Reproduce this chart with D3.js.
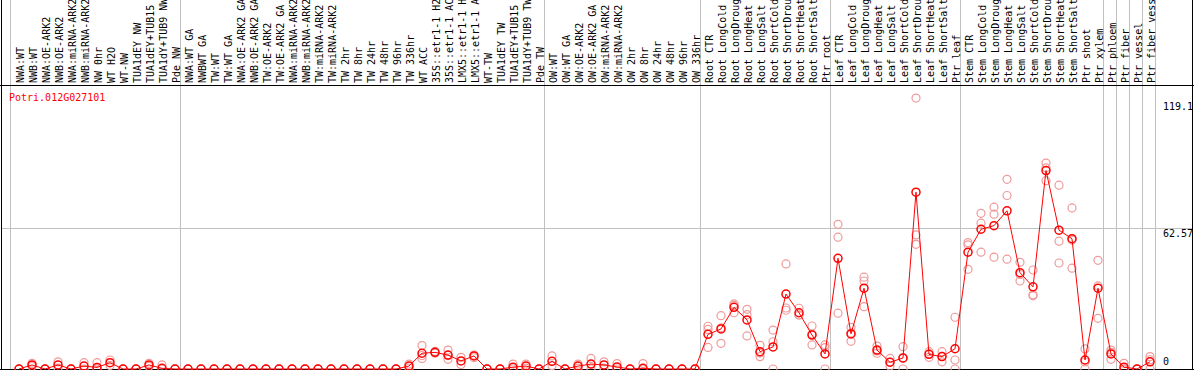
<!DOCTYPE html>
<html>
<head>
<meta charset="utf-8">
<script src="https://cdn.jsdelivr.net/npm/d3@7"></script>
<style>
  html, body { margin: 0; padding: 0; background: #fff; }
  svg { display: block; }
</style>
</head>
<body>
<div id="chart"></div>
<script>
const geneName = "Potri.012G027101"

const labels = [
    "NWA:WT", "NWB:WT", "NWA:OE-ARK2", "NWB:OE-ARK2", "NWA:miRNA-ARK2", "NWB:miRNA-ARK2",
    "NW 0hr", "WT H2O", "WT-NW", "TUA1dEY NW", "TUA1dEY+TUB15 NW", "TUA1dY+TUB9 NW", "Pde NW",
    "NWA:WT GA", "NWBWT GA", "TW:WT", "TW:WT GA", "NWA:OE-ARK2 GA", "NWB:OE-ARK2 GA",
    "TW:OE-ARK2", "TW:OE-ARK2 GA", "NWA:miRNA-ARK2", "NWB:miRNA-ARK2", "TW:miRNA-ARK2",
    "TW:miRNA-ARK2", "TW 2hr", "TW 8hr", "TW 24hr", "TW 48hr", "TW 96hr", "TW 336hr",
    "WT ACC", "35S::etr1-1 H2O", "35S::etr1-1 ACC", "LMX5::etr1-1 H2O", "LMX5::etr1-1 ACC",
    "WT-TW", "TUA1dEY TW", "TUA1dEY+TUB15 TW", "TUA1dY+TUB9 TW", "Pde TW",
    "OW:WT", "OW:WT GA", "OW:OE-ARK2", "OW:OE-ARK2 GA", "OW:miRNA-ARK2", "OW:miRNA-ARK2",
    "OW 2hr", "OW 8hr", "OW 24hr", "OW 48hr", "OW 96hr", "OW 336hr",
    "Root CTR", "Root LongCold", "Root LongDrought", "Root LongHeat", "Root LongSalt",
    "Root ShortCold", "Root ShortDrought", "Root ShortHeat", "Root ShortSalt", "Ptr root",
    "Leaf CTR", "Leaf LongCold", "Leaf LongDrought", "Leaf LongHeat", "Leaf LongSalt",
    "Leaf ShortCold", "Leaf ShortDrought", "Leaf ShortHeat", "Leaf ShortSalt", "Ptr leaf",
    "Stem CTR", "Stem LongCold", "Stem LongDrought", "Stem LongHeat", "Stem LongSalt",
    "Stem ShortCold", "Stem ShortDrought", "Stem ShortHeat", "Stem ShortSalt", "Ptr shoot",
    "Ptr xylem", "Ptr phloem", "Ptr fiber", "Ptr vessel", "Ptr fiber vessel"
]

// mean expression per sample
const means = [
    0, 1.8, 0, 1.8, 0, 1.3, 0.7, 2.8, 0, 0, 1.8, 0.3, 0,
    0, 0, 0, 0, 0, 0, 0, 0, 0, 0, 0, 0, 0, 0, 0, 0, 0, 1.3,
    7.0, 7.4, 6.2, 3.6, 5.8, 0, 0, 0.8, 1.3, 0,
    3.4, 0, 1.3, 2.2, 1.8, 0.9, 0, 0.3, 0, 0, 0, 0,
    15.4, 17.8, 27.4, 21.8, 7.7, 9.8, 33.3, 25.0, 15.1, 6.7,
    49.2, 15.6, 35.9, 8.4, 3.0, 4.9, 78.6, 6.5, 5.5, 9.0,
    51.9, 62.1, 63.7, 70.3, 42.8, 36.5, 88.2, 61.7, 57.9, 4.0,
    35.9, 6.7, 0.8, 0, 3.2
]

// individual replicates per sample
const replicates = [
    [0, 0], [2.5, 1.1], [0, 0], [3.2, 0.4], [0, 0], [2.8, 0], [2.8, 0], [4.0, 1.6],
    [0, 0], [0, 0], [2.5, 1.1], [1.8, 0], [0, 0],
    [0, 0], [0, 0], [0, 0], [0, 0], [0, 0], [0, 0], [0, 0], [0, 0], [0, 0], [0, 0],
    [0, 0], [0, 0], [0, 0], [0, 0], [0, 0], [0, 0], [0, 0], [2.2, 0.4],
    [10.4, 4.7, 6.0], [7.8, 7.0], [8.4, 4.3, 6.0], [5.2, 2.0], [6.2, 5.0],
    [0, 0], [0, 0], [2.2, 0], [2.2, 0.4], [0, 0],
    [5.8, 1.5], [0, 0], [2.2, 0.4], [4.7, 0], [3.2, 0.4], [2.4, 0], [0, 0], [2.4, 0],
    [0, 0], [0, 0], [0, 0], [0, 0],
    [19.0, 17.6, 9.6], [23.7, 11.4, 18.3], [28.9, 25.0, 28.3], [26.5, 14.7, 24.2],
    [10.5, 5.5, 7.1], [17.3, 12.1, 0], [46.7, 26.1, 27.1], [27.0, 24.0, 24.0],
    [19.1, 10.7, 15.5], [10.7, 9.5, 0],
    [64.3, 58.6, 24.8], [18.5, 12.3, 16.0], [40.8, 39.1, 27.7], [10.2, 8.0, 7.0],
    [4.7, 3.0, 1.3], [9.9, 4.8, 0], [120.4, 59.6, 55.4], [7.7, 5.2, 6.6],
    [7.7, 3.2, 5.6], [23.0, 4.0, 0],
    [56.2, 44.3, 55.2], [69.2, 64.8, 51.9], [71.9, 68.8, 49.7], [84.3, 77.1, 48.8],
    [47.4, 39.1, 42.0], [44.0, 32.5, 33.0], [91.5, 83.7, 89.4], [81.7, 56.8, 47.1],
    [71.6, 44.8, 57.3], [8.9, 0, 3.1],
    [48.3, 22.5, 36.9], [8.4, 4.3, 7.4], [2.5, 0, 0], [0, 0, 0], [5.5, 4.1, 0]
]

// index of the last sample in each group (a grey separator follows it)
const groupEnds = [12, 40, 52, 62, 72, 83, 84, 85, 86, 87]

const yTicks = [0, 62.57, 119.1]
const yGrid = [62.57]

const width = 1194
const height = 370
const headerBottom = 85      // the black line under the sample names
const plotBottom = 369       // where 0 sits
const yTop = 101             // where the max tick sits
const font = "'DejaVu Sans Mono', monospace"

const xScale = d3.scaleLinear([0, labels.length - 1], [19, 19 + 13 * (labels.length - 1)])
const yScale = d3.scaleLinear([0, d3.max(yTicks)], [plotBottom, yTop])

const svg = d3.select("#chart")
    .append("svg")
    .attr("width", width)
    .attr("height", height)
    .attr("viewBox", [0, 0, width, height])
    .attr("shape-rendering", "crispEdges")

// grey separators
svg.append("g")
    .attr("stroke", "#c0c0c0")
    .attr("stroke-width", 1)
    .call(g => g.append("line")
        .attr("x1", xScale(0) - 8.5).attr("x2", xScale(0) - 8.5)
        .attr("y1", 0).attr("y2", plotBottom))
    .call(g => g.selectAll("line.sep")
        .data(groupEnds)
        .join("line")
        .attr("class", "sep")
        .attr("x1", d => Math.round(xScale(d) + 5) + 0.5)
        .attr("x2", d => Math.round(xScale(d) + 5) + 0.5)
        .attr("y1", 0)
        .attr("y2", plotBottom))
    .call(g => g.selectAll("line.grid")
        .data(yGrid)
        .join("line")
        .attr("class", "grid")
        .attr("x1", 1)
        .attr("x2", width - 1)
        .attr("y1", d => Math.round(yScale(d)) + 0.5)
        .attr("y2", d => Math.round(yScale(d)) + 0.5))

// black frame
svg.append("g")
    .attr("stroke", "#000")
    .attr("stroke-width", 1)
    .call(g => g.append("line").attr("x1", 1.5).attr("x2", 1.5).attr("y1", 0).attr("y2", height))
    .call(g => g.append("line").attr("x1", width - 1.5).attr("x2", width - 1.5).attr("y1", 0).attr("y2", height))
    .call(g => g.append("line").attr("x1", 0).attr("x2", width).attr("y1", headerBottom + 0.5).attr("y2", headerBottom + 0.5))
    .call(g => g.append("line").attr("x1", 0).attr("x2", width).attr("y1", plotBottom + 0.5).attr("y2", plotBottom + 0.5))

// sample names, rotated (long ones run off the top, as in the original)
svg.append("g")
    .attr("font-family", font)
    .attr("font-size", 10)
    .attr("fill", "#000")
    .selectAll("text")
    .data(labels)
    .join("text")
    .attr("transform", (d, i) => `translate(${xScale(i) + 5},${headerBottom - 2}) rotate(-90)`)
    .attr("text-anchor", "start")
    .text(d => d)

// gene title
svg.append("text")
    .attr("x", 9)
    .attr("y", 101)
    .attr("font-family", font)
    .attr("font-size", 10)
    .attr("fill", "#ff0000")
    .text(geneName)

// right-hand value labels
svg.append("g")
    .attr("font-family", font)
    .attr("font-size", 10)
    .attr("fill", "#000")
    .selectAll("text")
    .data(yTicks)
    .join("text")
    .attr("x", 1163)
    .attr("y", d => d === 0 ? plotBottom - 4 : yScale(d) + 9)
    .text(d => d)

const plot = svg.append("g").attr("shape-rendering", "auto")

// replicates
plot.append("g")
    .attr("fill", "none")
    .attr("stroke", "#f09a9a")
    .attr("stroke-width", 1.2)
    .selectAll("circle")
    .data(replicates.flatMap((reps, i) => reps.map(v => ({ i, v }))))
    .join("circle")
    .attr("cx", d => xScale(d.i))
    .attr("cy", d => yScale(d.v))
    .attr("r", 4)

// mean line
const line = d3.line()
    .x((d, i) => xScale(i))
    .y(d => yScale(d))

plot.append("path")
    .datum(means)
    .attr("fill", "none")
    .attr("stroke", "#ff0000")
    .attr("stroke-width", 1)
    .attr("d", line)

plot.append("g")
    .attr("fill", "none")
    .attr("stroke", "#ff0000")
    .attr("stroke-width", 1.5)
    .selectAll("circle")
    .data(means)
    .join("circle")
    .attr("cx", (d, i) => xScale(i))
    .attr("cy", d => yScale(d))
    .attr("r", 4)
</script>
</body>
</html>
